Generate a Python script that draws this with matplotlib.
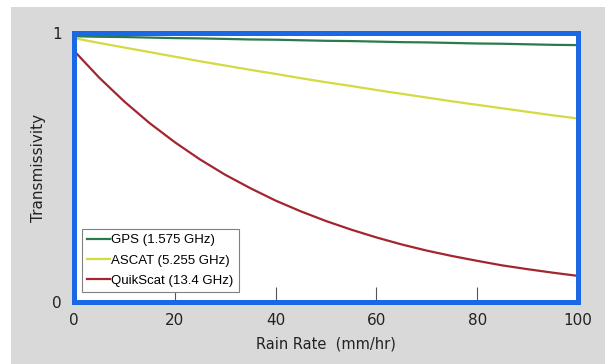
import matplotlib.pyplot as plt
from matplotlib.patches import Rectangle

# rain rate (mm/hr) and transmissivity
rain_rate = [0, 5, 10, 15, 20, 25, 30, 35, 40, 45, 50,
             55, 60, 65, 70, 75, 80, 85, 90, 95, 100]
gps = [0.988, 0.986, 0.985, 0.983, 0.981, 0.980, 0.978, 0.976, 0.975, 0.973, 0.971,
       0.970, 0.968, 0.966, 0.965, 0.963, 0.961, 0.960, 0.958, 0.956, 0.955]
ascat = [0.981, 0.963, 0.946, 0.929, 0.912, 0.895, 0.879, 0.863, 0.848, 0.832, 0.817,
         0.803, 0.788, 0.774, 0.760, 0.746, 0.733, 0.720, 0.707, 0.694, 0.682]
quikscat = [0.934, 0.834, 0.745, 0.665, 0.594, 0.530, 0.473, 0.423, 0.377, 0.337, 0.301,
            0.269, 0.240, 0.214, 0.191, 0.171, 0.153, 0.136, 0.122, 0.109, 0.097]

labels = ['GPS (1.575 GHz)', 'ASCAT (5.255 GHz)', 'QuikScat (13.4 GHz)']
colors = ['#2b7a4b', '#d4da40', '#a3262f']
x_ticks = [0, 20, 40, 60, 80, 100]
y_ticks = [0, 1]

fig = plt.figure(figsize=(6.05, 3.64), dpi=100)
fig.patch.set_facecolor('white')
# grey panel behind the chart
fig.add_artist(Rectangle((11 / 605, 0), 1, 357 / 364, transform=fig.transFigure,
                         facecolor='#d9d9d9', edgecolor='none', zorder=-10))

ax = fig.add_axes([74 / 605, 62 / 364, 504 / 605, 269 / 364])
ax.set_facecolor('white')

for series, lab, col in zip([gps, ascat, quikscat], labels, colors):
    ax.plot(rain_rate, series, color=col, lw=1.6, label=lab)

ax.set_xlim(0, 100)
ax.set_ylim(0, 1)
ax.set_xticks(x_ticks)
ax.set_yticks(y_ticks)
ax.set_yticklabels(['0', '1'])
ax.tick_params(axis='x', direction='in', length=10.5, width=0.8, color='#555555',
               pad=8, labelsize=11, labelcolor='#222222')
ax.tick_params(axis='y', length=0, pad=9, labelsize=11, labelcolor='#222222')

for sp in ax.spines.values():
    sp.set_color('#1a68e6')
    sp.set_linewidth(3.6)
    sp.set_zorder(5)

ax.set_xlabel('Rain Rate  (mm/hr)', fontsize=10.5, color='#222222', labelpad=6)
ax.set_ylabel('Transmissivity', fontsize=11, color='#222222', labelpad=4)

leg = ax.legend(loc='lower left', bbox_to_anchor=(0.016, 0.037), borderaxespad=0,
                fancybox=False, edgecolor='#808080', framealpha=1,
                prop={'family': 'Liberation Sans', 'size': 9.5},
                handlelength=1.7, handletextpad=0.1, labelspacing=0.6,
                borderpad=0.4)
leg.get_frame().set_linewidth(0.8)

fig.savefig('out.png', dpi=100)
